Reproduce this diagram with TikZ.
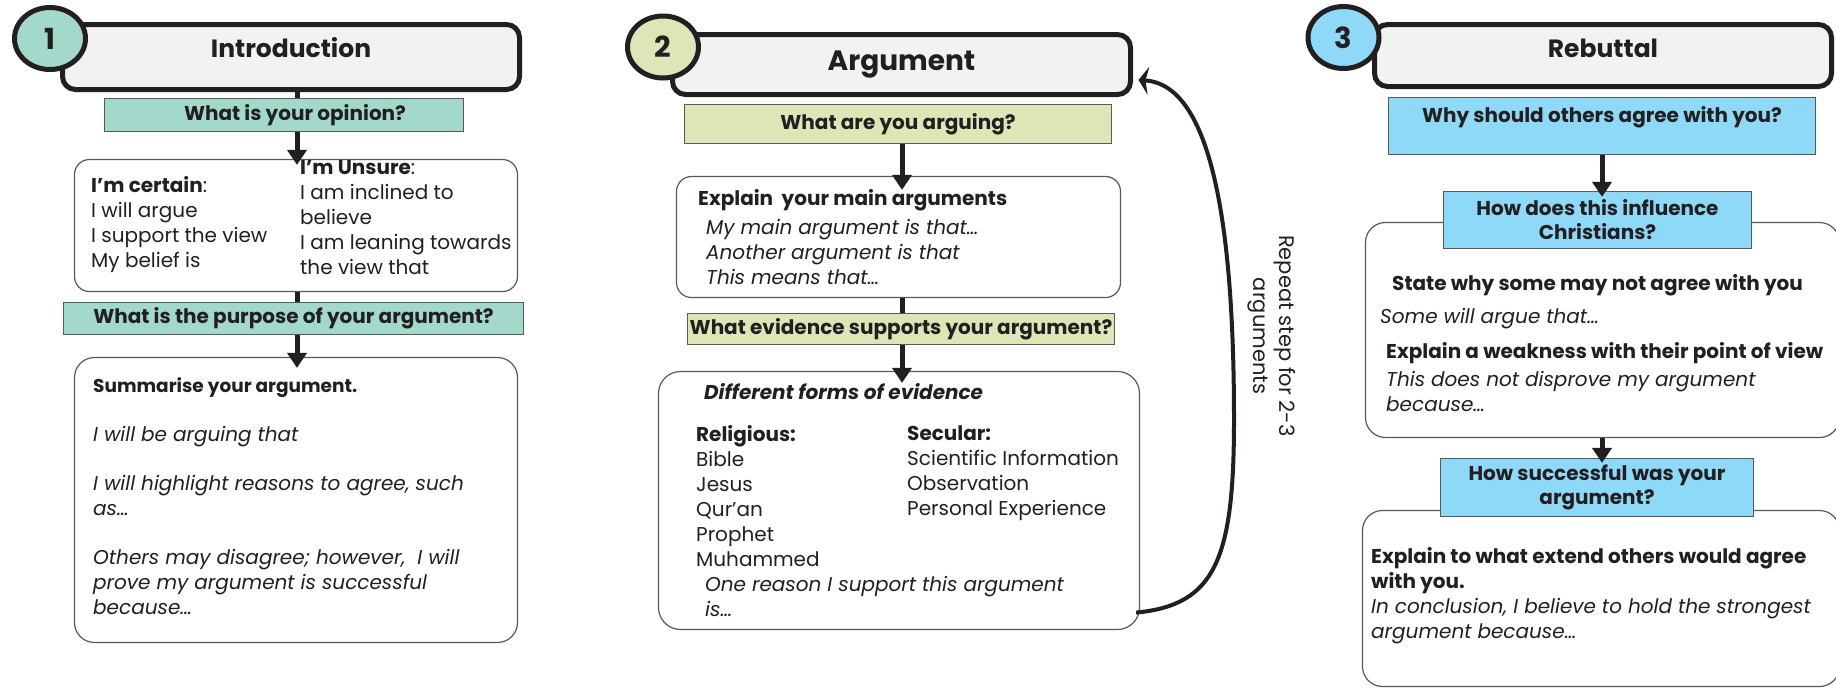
\documentclass[tikz,border=0pt]{standalone}
\usepackage{fontspec}
\setmainfont{Poppins}
\usetikzlibrary{arrows.meta,shapes.geometric}

\definecolor{ink}{HTML}{231F20}
\definecolor{edge}{HTML}{58595B}
\definecolor{shade}{HTML}{F1F3F2}
\definecolor{introcol}{HTML}{A3D9CB}
\definecolor{argcol}{HTML}{DCE6B6}
\definecolor{rebcol}{HTML}{8ED8F8}

\newcommand{\headfont}{\fontsize{25}{30}\selectfont\bfseries}
\newcommand{\askfont}{\fontsize{20}{24}\selectfont\bfseries}
\newcommand{\bodyfont}{\fontsize{20}{25}\selectfont}

\begin{document}
\begin{tikzpicture}[x=1pt,y=-1pt,
    every node/.style={text=ink},
    head/.style={draw=ink,line width=5pt,rounded corners=13pt,fill=shade,font=\headfont,inner sep=0pt},
    ring/.style={ellipse,draw=ink,line width=5pt,inner sep=0pt,minimum width=71pt,minimum height=62pt,font=\fontsize{29}{30}\selectfont\bfseries},
    ask/.style={draw=edge,line width=1.2pt,font=\askfont,inner sep=0pt,align=center},
    panel/.style={draw=edge,line width=1.2pt,rounded corners=18pt,fill=white},
    txt/.style={anchor=north west,inner sep=0pt,align=left,font=\bodyfont,execute at begin node=\strut},
    stem/.style={draw=ink,line width=5pt},
    flow/.style={stem,-{Triangle[length=15pt,width=19pt]}}
  ]
  \fill[white] (0,0) rectangle (1836,689);
  \useasboundingbox (0,0) rectangle (1836,689);
  \clip (0,0) rectangle (1836,689);

  % title bars
  \node[head,minimum width=457pt,minimum height=65pt,text height=18pt,text depth=18pt] (head1) at (291,57) {Introduction};
  \node[head,minimum width=458pt,minimum height=60pt,font=\fontsize{28}{32}\selectfont\bfseries,text height=28pt,text depth=17pt] (head2) at (901.5,64.5) {Argument};
  \node[head,minimum width=457pt,minimum height=62pt,text height=20pt,text depth=17pt] (head3) at (1603,55.5) {Rebuttal};

  % answer panels
  \node[panel,minimum width=443pt,minimum height=132pt,rounded corners=15pt] (opin) at (296,225.5) {};
  \node[panel,minimum width=443pt,minimum height=285pt,rounded corners=20pt] (summ) at (296,500) {};
  \node[panel,minimum width=444pt,minimum height=121pt,rounded corners=15pt] (expl) at (898.5,237) {};
  \node[panel,minimum width=481pt,minimum height=258pt,rounded corners=22pt] (evid) at (899,500.5) {};
  \node[panel,minimum width=474pt,minimum height=215pt,rounded corners=20pt] (weak) at (1602.5,330) {};
  \node[panel,minimum width=477pt,minimum height=176pt,rounded corners=20pt] (verdict) at (1601,598.5) {};

  % questions
  \node[ask,fill=introcol,minimum width=359pt,minimum height=33pt] (q1) at (284,115) {\hspace*{22pt}What is your opinion?};
  \node[ask,fill=introcol,minimum width=460pt,minimum height=32pt] (q2) at (293.5,318.5) {What is the purpose of your argument?};
  \node[ask,fill=argcol,minimum width=427pt,minimum height=39pt] (q3) at (898,124) {What are you arguing?};
  \node[ask,fill=argcol,minimum width=427pt,minimum height=31pt] (q4) at (901,329) {What evidence supports your argument?};
  \node[ask,fill=rebcol,minimum width=427pt,minimum height=57pt,text height=14pt,text depth=22pt] (q5) at (1602,126) {Why should others agree with you?};
  \node[ask,fill=rebcol,minimum width=308pt,minimum height=57pt] (q6) at (1597.5,220) {How does this influence\\Christians?};
  \node[ask,fill=rebcol,minimum width=313pt,minimum height=58pt] (q7) at (1597,487.5) {How successful was your\\argument?};

  % numbered rings
  \foreach \n/\cx/\cy/\col in {1/50/38.5/introcol, 2/663/47/argcol, 3/1343.5/37.5/rebcol}
    \node[ring,fill=\col] (ring\n) at (\cx,\cy) {\n};

  % spines
  \coordinate (sp1) at (297,0);
  \coordinate (sp2) at (902,0);
  \coordinate (sp3) at (1602,0);
  \foreach \a/\b/\s in {head1/q1/sp1, opin/q2/sp1, expl/q4/sp2}
    \draw[stem] (\a.south -| \s) -- (\b.north -| \s);
  \foreach \a/\b/\s/\o in {q1/opin/sp1/6pt, q2/summ/sp1/11pt, q3/expl/sp2/14pt, q4/evid/sp2/12pt, q5/q6/sp3/6pt, weak/q7/sp3/5pt}
    \draw[flow,shorten >=-\o] (\a.south -| \s) -- (\b.north -| \s);

  % loop back
  \draw[ink,line width=4pt,-{Stealth[length=10pt,width=28pt,inset=3pt]}]
    ([shift={(-4,-17.5)}]evid.south east) .. controls (1215,605) and (1234,560) .. (1234,420)
    .. controls (1234,240) and (1215,85) .. ([shift={(5.5,15.5)}]head2.east);
  \node[rotate=-90,align=center,font=\fontsize{21}{26}\selectfont] (repeat) at (1272,336) {Repeat step for 2-3\\arguments};

  % panel 1 text
  \node[txt] (sure) at (91,176.5) {\textbf{I’m certain}:\\I will argue\\I support the view\\My belief is};
  \node[txt] (unsure) at (300,160.5) {\textbf{I’m Unsure}:\\I am inclined to\\believe\\I am leaning towards\\the view that};
  \node[txt] (summtxt) at (93,377.5) {{\fontsize{18.5}{25}\selectfont\textbf{Summarise your argument.}}\\[24pt]\textit{I will be arguing that}\\[24pt]\textit{I will highlight reasons to agree, such}\\\textit{as…}\\[24pt]\textit{Others may disagree; however,\ \ I will}\\\textit{prove my argument is successful}\\\textit{because…}};

  % panel 2 text
  \node[txt] (expltxt) at (698,189.5) {\textbf{Explain\ \ your main arguments}\\[4pt]\hspace*{8pt}\textit{My main argument is that…}\\\hspace*{8pt}\textit{Another argument is that}\\\hspace*{8pt}\textit{This means that…}};
  \node[txt] (evidtxt) at (704,381.5) {\textbf{\textit{Different forms of evidence}}};
  \node[txt] (relig) at (696,425.5) {\textbf{Religious:}\\Bible\\Jesus\\Qur’an\\Prophet\\Muhammed};
  \node[txt] (secul) at (907,425.5) {\textbf{Secular:}\\Scientific Information\\Observation\\Personal Experience};
  \node[txt] (reason) at (705,576.5) {\textit{One reason I support this argument}\\\textit{is…}};

  % panel 3 text
  \node[txt] (disagree) at (1392,272.5) {\textbf{State why some may not agree with you}};
  \node[txt] (some) at (1380,305.5) {\textit{Some will argue that…}};
  \node[txt] (weaktxt) at (1386,342.5) {\textbf{Explain a weakness with their point of view}\\[3pt]\textit{This does not disprove my argument}\\\textit{because…}};
  \node[txt] (extent) at (1371,547.5) {\textbf{Explain to what extend others would agree}\\\textbf{with you.}\\\textit{In conclusion, I believe to hold the strongest}\\\textit{argument because…}};
\end{tikzpicture}
\end{document}
